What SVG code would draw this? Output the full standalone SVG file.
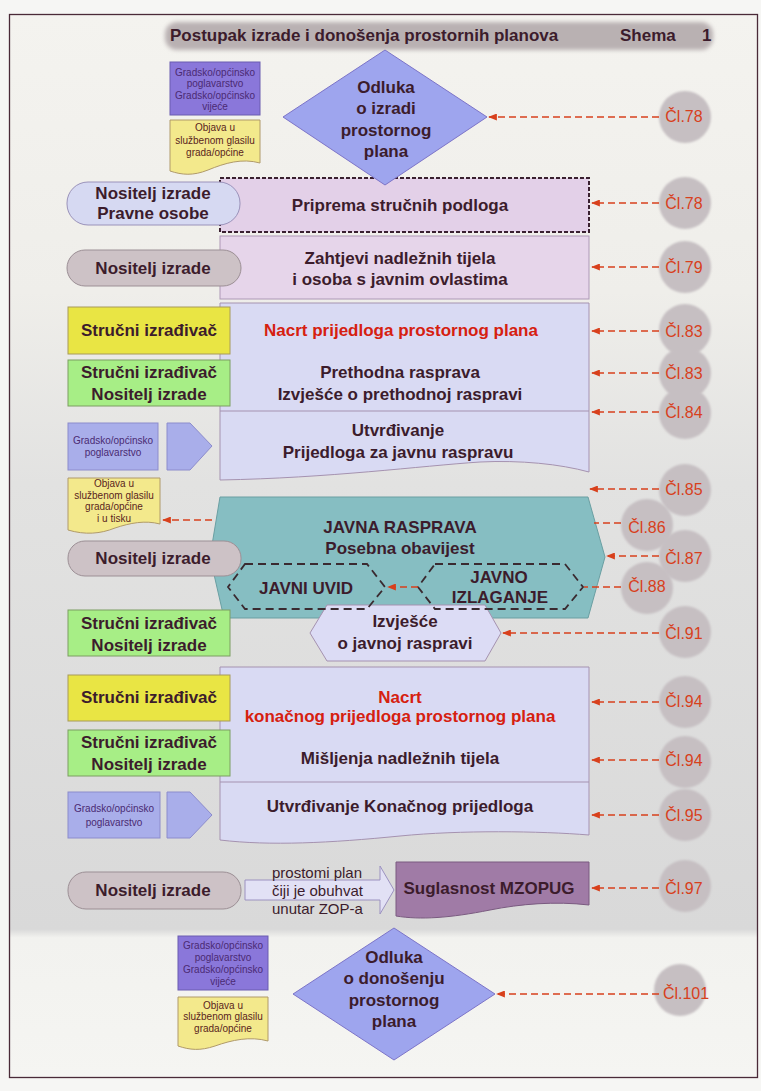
<svg xmlns="http://www.w3.org/2000/svg" width="761" height="1091" viewBox="0 0 761 1091">
<defs>
  <style>
    .t{font-family:"Liberation Sans",Arial,sans-serif;font-weight:bold;font-size:17px;fill:#3c1c2c;text-anchor:middle}
    .red{fill:#d6200f}
    .n{font-family:"Liberation Sans",Arial,sans-serif;font-size:15px;fill:#3c1c2c}
    .s{font-family:"Liberation Sans",Arial,sans-serif;font-size:10px;text-anchor:middle}
    .sp{fill:#4a2a72}
    .sy{fill:#5a2420}
    .cl{font-family:"Liberation Sans",Arial,sans-serif;font-size:16px;fill:#d8401c;text-anchor:middle}
    .ref{fill:#c6bfc2;filter:url(#soft)}
    .arr{stroke:#d8401c;stroke-width:1.6;stroke-dasharray:7 4;fill:none}
    .arrh{stroke:#d8401c;stroke-width:1.6;stroke-dasharray:7 4;fill:none;marker-end:url(#ah)}
    .lav{fill:#d9daf3;stroke:#a592b0;stroke-width:1}
    .yel{fill:#e9e544;stroke:#a89a5a;stroke-width:1}
    .grn{fill:#a7ee86;stroke:#7c9e62;stroke-width:1}
    .blu{fill:#a9aeea;stroke:#8c8ccc;stroke-width:1}
    .pur{fill:#8a77da;stroke:#6a5cb0;stroke-width:1}
    .doc{fill:#f3e98c;stroke:#b09a6a;stroke-width:1}
    .dia{fill:#9ea5ee;stroke:#7c74c8;stroke-width:1}
    .pillg{fill:#cdc2c6;stroke:#9c8f95;stroke-width:1}
    .pillb{fill:#d6d9f2;stroke:#9a92ba;stroke-width:1}
    .hex{fill:none;stroke:#3a2a30;stroke-width:1.8;stroke-dasharray:8 5}
  </style>
  <filter id="soft" x="-20%" y="-20%" width="140%" height="140%">
    <feGaussianBlur stdDeviation="1.2"/>
  </filter>
  <filter id="glow" x="-5%" y="-40%" width="110%" height="180%">
    <feGaussianBlur stdDeviation="2"/>
  </filter>
  <marker id="ah" viewBox="0 0 10 8" refX="9" refY="4" markerWidth="9" markerHeight="7" orient="auto" markerUnits="userSpaceOnUse">
    <path d="M0,0 L10,4 L0,8 Z" fill="#d8401c"/>
  </marker>
  <linearGradient id="page" x1="0" y1="0" x2="0" y2="1">
    <stop offset="0" stop-color="#f4f3ef"/>
    <stop offset="0.26" stop-color="#efeeea"/>
    <stop offset="0.44" stop-color="#e2e2e1"/>
    <stop offset="0.86" stop-color="#d9d9d9"/>
    <stop offset="0.868" stop-color="#f2f2ef"/>
    <stop offset="1" stop-color="#f5f5f2"/>
  </linearGradient>
</defs>

<!-- page and frame -->
<rect x="0" y="0" width="761" height="1091" fill="#f6f6f4"/>
<rect x="10" y="15" width="747" height="1063" fill="url(#page)"/>
<rect x="9.5" y="14.5" width="748" height="1063" fill="none" stroke="#4a2a38" stroke-width="1.3"/>

<!-- article references -->
<g id="refs">
  <circle class="ref" cx="685" cy="117" r="26"/>
  <circle class="ref" cx="685" cy="203" r="26"/>
  <circle class="ref" cx="685" cy="267" r="26"/>
  <circle class="ref" cx="685" cy="330" r="26"/>
  <circle class="ref" cx="685" cy="373" r="26"/>
  <circle class="ref" cx="685" cy="413" r="26"/>
  <circle class="ref" cx="685" cy="490" r="26"/>
  <circle class="ref" cx="647" cy="525" r="26"/>
  <circle class="ref" cx="685" cy="556" r="26"/>
  <circle class="ref" cx="647" cy="588" r="26"/>
  <circle class="ref" cx="685" cy="632" r="26"/>
  <circle class="ref" cx="685" cy="702" r="26"/>
  <circle class="ref" cx="685" cy="762" r="26"/>
  <circle class="ref" cx="685" cy="815" r="26"/>
  <circle class="ref" cx="685" cy="886" r="26"/>
  <circle class="ref" cx="680" cy="990" r="26"/>
  <text class="cl" x="684" y="122">Čl.78</text>
  <text class="cl" x="684" y="209">Čl.78</text>
  <text class="cl" x="684" y="273">Čl.79</text>
  <text class="cl" x="684" y="337">Čl.83</text>
  <text class="cl" x="684" y="379">Čl.83</text>
  <text class="cl" x="684" y="418">Čl.84</text>
  <text class="cl" x="684" y="495">Čl.85</text>
  <text class="cl" x="647" y="533">Čl.86</text>
  <text class="cl" x="684" y="564">Čl.87</text>
  <text class="cl" x="647" y="592">Čl.88</text>
  <text class="cl" x="684" y="639">Čl.91</text>
  <text class="cl" x="684" y="707">Čl.94</text>
  <text class="cl" x="684" y="766">Čl.94</text>
  <text class="cl" x="684" y="821">Čl.95</text>
  <text class="cl" x="684" y="894">Čl.97</text>
  <text class="cl" x="686" y="999">Čl.101</text>
</g>

<!-- title -->
<g id="title">
  <rect x="165" y="22" width="548" height="28" rx="12" fill="#b9b1b2" filter="url(#glow)"/>
  <text class="t" x="170" y="41" style="text-anchor:start">Postupak izrade i donošenja prostornih planova</text>
  <text class="t" x="620" y="41" style="text-anchor:start">Shema</text>
  <text class="t" x="702" y="41" style="text-anchor:start">1</text>
</g>

<!-- main process column -->
<g id="priprema">
  <rect x="220" y="178" width="369" height="54" fill="#e3d0e8" stroke="#3a2030" stroke-width="2" stroke-dasharray="4 2"/>
  <text class="t" x="400" y="211">Priprema stručnih podloga</text>
</g>
<g id="odluka-izrada">
  <polygon class="dia" points="385,50 487,117 385,185 283,117"/>
  <text class="t" x="386" y="93">Odluka</text>
  <text class="t" x="386" y="114">o izradi</text>
  <text class="t" x="386" y="136">prostornog</text>
  <text class="t" x="386" y="157">plana</text>
</g>
<g id="zahtjevi">
  <rect x="220" y="236" width="369" height="63" fill="#e6d5ea" stroke="#ad98b6" stroke-width="1"/>
  <text class="t" x="400" y="264">Zahtjevi nadležnih tijela</text>
  <text class="t" x="400" y="285">i osoba s javnim ovlastima</text>
</g>
<g id="nacrt-prijedloga">
  <path class="lav" d="M220,303 H589 V472 C560,464 520,460 480,462 C420,466 330,478 220,480 Z"/>
  <line x1="220" y1="411" x2="589" y2="411" stroke="#a592b0" stroke-width="1"/>
  <text class="t red" x="401" y="336">Nacrt prijedloga prostornog plana</text>
  <text class="t" x="400" y="378">Prethodna rasprava</text>
  <text class="t" x="400" y="400">Izvješće o prethodnoj raspravi</text>
  <text class="t" x="398" y="436">Utvrđivanje</text>
  <text class="t" x="398" y="458">Prijedloga za javnu raspravu</text>
</g>
<g id="javna-rasprava">
  <polygon points="220,497 588,497 605,557 588,618 224,618 210,557" fill="#86bec2" stroke="#6a9fa2" stroke-width="1"/>
  <text class="t" x="400" y="533">JAVNA RASPRAVA</text>
  <text class="t" x="400" y="554">Posebna obavijest</text>
</g>
<g id="izvjesce-javna">
  <polygon points="327,605 485,605 501,633 485,661 327,661 310,633" fill="#dcdcf5" stroke="#a592b0" stroke-width="1"/>
  <text class="t" x="405" y="627">Izvješće</text>
  <text class="t" x="405" y="649">o javnoj raspravi</text>
</g>
<g id="javni-uvid">
  <polygon class="hex" points="245,564 367,564 385,587 367,609 245,609 228,587"/>
  <text class="t" x="306" y="594">JAVNI UVID</text>
</g>
<g id="javno-izlaganje">
  <polygon class="hex" points="435,564 565,564 583,587 565,609 435,609 418,587"/>
  <text class="t" x="499" y="583">JAVNO</text>
  <text class="t" x="500" y="603">IZLAGANJE</text>
</g>
<g id="nacrt-konacnog">
  <path class="lav" d="M220,667 H589 V835 C540,831 460,830 400,836 C330,843 270,846 220,840 Z"/>
  <line x1="220" y1="782" x2="589" y2="782" stroke="#a592b0" stroke-width="1"/>
  <text class="t red" x="400" y="703">Nacrt</text>
  <text class="t red" x="400" y="722">konačnog prijedloga prostornog plana</text>
  <text class="t" x="400" y="764">Mišljenja nadležnih tijela</text>
  <text class="t" x="400" y="812">Utvrđivanje Konačnog prijedloga</text>
</g>
<g id="zop-uvjet">
  <path d="M245,880 H380 V866 L394,890 L380,914 V900 H245 Z" fill="#e2e1f5" stroke="#9c92c0" stroke-width="1"/>
  <text class="n" x="272" y="878">prostomi plan</text>
  <text class="n" x="272" y="896">čiji je obuhvat</text>
  <text class="n" x="272" y="914">unutar ZOP-a</text>
</g>
<g id="suglasnost">
  <path d="M396,862 H589 V905 C555,901 520,904 490,910 C450,918 420,920 396,916 Z" fill="#a07ba6" stroke="#7a5a80" stroke-width="1"/>
  <text class="t" x="489" y="894">Suglasnost MZOPUG</text>
</g>
<g id="odluka-donosenje">
  <polygon class="dia" points="394,928 495,994 394,1060 293,994"/>
  <text class="t" x="394" y="963">Odluka</text>
  <text class="t" x="394" y="984">o donošenju</text>
  <text class="t" x="394" y="1006">prostornog</text>
  <text class="t" x="394" y="1027">plana</text>
</g>

<!-- participants column -->
<g id="vijece-1">
  <rect class="pur" x="170" y="62" width="90" height="53"/>
  <text class="s sp" x="215" y="75.5">Gradsko/općinsko</text>
  <text class="s sp" x="215" y="87">poglavarstvo</text>
  <text class="s sp" x="215" y="98.5">Gradsko/općinsko</text>
  <text class="s sp" x="215" y="110">vijeće</text>
</g>
<g id="objava-1">
  <path class="doc" d="M170,120 H260 V163 C242,158 225,163 208,170 C193,176 182,175 170,171 Z"/>
  <text class="s sy" x="215" y="131">Objava u</text>
  <text class="s sy" x="215" y="143.5">službenom glasilu</text>
  <text class="s sy" x="215" y="156">grada/općine</text>
</g>
<g id="nositelj-pravne">
  <rect class="pillb" x="67" y="182" width="173" height="43" rx="21"/>
  <text class="t" x="153" y="199">Nositelj izrade</text>
  <text class="t" x="153" y="219">Pravne osobe</text>
</g>
<g id="nositelj-1">
  <rect class="pillg" x="67" y="250" width="174" height="36" rx="18"/>
  <text class="t" x="153" y="274">Nositelj izrade</text>
</g>
<g id="izradivac-1">
  <rect class="yel" x="68" y="307" width="162" height="47"/>
  <text class="t" x="149" y="336">Stručni izrađivač</text>
</g>
<g id="izradivac-nositelj-1">
  <rect class="grn" x="68" y="360" width="162" height="46"/>
  <text class="t" x="149" y="378">Stručni izrađivač</text>
  <text class="t" x="149" y="400">Nositelj izrade</text>
</g>
<g id="poglavarstvo-1">
  <rect class="blu" x="68" y="423" width="90" height="47"/>
  <polygon class="blu" points="167,423 190,423 212,446 190,470 167,470"/>
  <text class="s sp" x="113" y="443.5">Gradsko/općinsko</text>
  <text class="s sp" x="113" y="455.5">poglavarstvo</text>
</g>
<g id="objava-2">
  <path class="doc" d="M68,478 H160 V524 C145,520 130,523 115,528 C100,534 85,535 68,530 Z"/>
  <text class="s sy" x="114" y="487">Objava u</text>
  <text class="s sy" x="114" y="498.5">službenom glasilu</text>
  <text class="s sy" x="114" y="510">grada/općine</text>
  <text class="s sy" x="114" y="521.5">i u tisku</text>
</g>
<g id="nositelj-2">
  <rect class="pillg" x="68" y="541" width="173" height="35" rx="17"/>
  <text class="t" x="153" y="564">Nositelj izrade</text>
</g>
<g id="izradivac-nositelj-2">
  <rect class="grn" x="68" y="610" width="162" height="46"/>
  <text class="t" x="149" y="629">Stručni izrađivač</text>
  <text class="t" x="149" y="651">Nositelj izrade</text>
</g>
<g id="izradivac-2">
  <rect class="yel" x="68" y="675" width="162" height="46"/>
  <text class="t" x="149" y="703">Stručni izrađivač</text>
</g>
<g id="izradivac-nositelj-3">
  <rect class="grn" x="68" y="730" width="162" height="46"/>
  <text class="t" x="149" y="748">Stručni izrađivač</text>
  <text class="t" x="149" y="770">Nositelj izrade</text>
</g>
<g id="poglavarstvo-2">
  <rect class="blu" x="68" y="792" width="92" height="46"/>
  <polygon class="blu" points="167,792 190,792 212,815 190,838 167,838"/>
  <text class="s sp" x="114" y="811.5">Gradsko/općinsko</text>
  <text class="s sp" x="114" y="825.5">poglavarstvo</text>
</g>
<g id="nositelj-3">
  <rect class="pillg" x="68" y="872" width="173" height="37" rx="18"/>
  <text class="t" x="153" y="896">Nositelj izrade</text>
</g>
<g id="vijece-2">
  <rect class="pur" x="178" y="936" width="90" height="54"/>
  <text class="s sp" x="223" y="948.5">Gradsko/općinsko</text>
  <text class="s sp" x="223" y="960.5">poglavarstvo</text>
  <text class="s sp" x="223" y="972.5">Gradsko/općinsko</text>
  <text class="s sp" x="223" y="984.5">vijeće</text>
</g>
<g id="objava-3">
  <path class="doc" d="M178,997 H268 V1041 C250,1036 232,1040 215,1046 C200,1051 190,1050 178,1046 Z"/>
  <text class="s sy" x="223" y="1008.5">Objava u</text>
  <text class="s sy" x="223" y="1020">službenom glasilu</text>
  <text class="s sy" x="223" y="1031.5">grada/općine</text>
</g>

<!-- connectors -->
<g id="connectors">
  <line class="arrh" x1="659" y1="117" x2="489" y2="117"/>
  <line class="arrh" x1="659" y1="203" x2="592" y2="203"/>
  <line class="arrh" x1="659" y1="267" x2="592" y2="267"/>
  <line class="arrh" x1="659" y1="331" x2="592" y2="331"/>
  <line class="arrh" x1="659" y1="373" x2="592" y2="373"/>
  <line class="arrh" x1="659" y1="412" x2="592" y2="412"/>
  <line class="arrh" x1="659" y1="489" x2="590" y2="489"/>
  <line class="arr" x1="621" y1="523" x2="594" y2="523"/>
  <line class="arrh" x1="659" y1="556" x2="607" y2="556"/>
  <line class="arr" x1="621" y1="587" x2="584" y2="587"/>
  <line class="arrh" x1="659" y1="633" x2="503" y2="633"/>
  <line class="arrh" x1="659" y1="702" x2="592" y2="702"/>
  <line class="arrh" x1="659" y1="760" x2="592" y2="760"/>
  <line class="arrh" x1="659" y1="815" x2="592" y2="815"/>
  <line class="arrh" x1="659" y1="888" x2="592" y2="888"/>
  <line class="arrh" x1="659" y1="994" x2="497" y2="994"/>
  <line class="arrh" x1="418" y1="587" x2="388" y2="587"/>
  <line class="arrh" x1="212" y1="520" x2="163" y2="520"/>
</g>
</svg>
